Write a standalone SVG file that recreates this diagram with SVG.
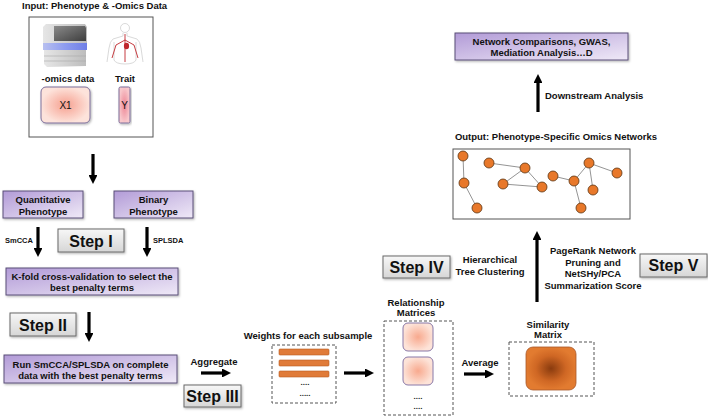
<svg xmlns="http://www.w3.org/2000/svg" width="708" height="418" viewBox="0 0 708 418">
<defs>
<linearGradient id="gPurple" x1="0" y1="0" x2="1" y2="1"><stop offset="0" stop-color="#b29bd7"/><stop offset="1" stop-color="#efe9f7"/></linearGradient>
<linearGradient id="gStep" x1="0" y1="0" x2="0" y2="1"><stop offset="0" stop-color="#f7f7f7"/><stop offset="1" stop-color="#d6d6d6"/></linearGradient>
<radialGradient id="gPink"><stop offset="0" stop-color="#f6a090"/><stop offset="1" stop-color="#fde3db"/></radialGradient>
<radialGradient id="gRed"><stop offset="0" stop-color="#ee8796"/><stop offset="1" stop-color="#f8c8cc"/></radialGradient>
<radialGradient id="gRel"><stop offset="0" stop-color="#f8a98e"/><stop offset="1" stop-color="#fde3d8"/></radialGradient>
<radialGradient id="gSim"><stop offset="0" stop-color="#8a3b0e"/><stop offset="0.6" stop-color="#cf6724"/><stop offset="1" stop-color="#e27b30"/></radialGradient>
<linearGradient id="gScreen" x1="0" y1="0" x2="1" y2="1"><stop offset="0" stop-color="#8a8a8a"/><stop offset="1" stop-color="#3e3e3e"/></linearGradient>
<linearGradient id="gBody" x1="0" y1="0" x2="1" y2="0"><stop offset="0" stop-color="#e6e6e6"/><stop offset="1" stop-color="#bdbdbd"/></linearGradient>
<linearGradient id="gBlue" x1="0" y1="0" x2="1" y2="0"><stop offset="0" stop-color="#b8c0f0"/><stop offset="0.5" stop-color="#8e9cf0"/><stop offset="1" stop-color="#6f7fe6"/></linearGradient>
<filter id="sh" x="-10%" y="-10%" width="120%" height="130%"><feDropShadow dx="1" dy="1.2" stdDeviation="0.9" flood-color="#000" flood-opacity="0.3"/></filter>
<marker id="ah" viewBox="0 0 10 10" refX="3" refY="5" markerWidth="2.8" markerHeight="2.8" orient="auto" markerUnits="strokeWidth"><path d="M0,0 L10,5 L0,10 z" fill="#000"/></marker>
</defs>
<style>
text{font-family:"Liberation Sans",Arial,sans-serif;font-weight:bold;fill:#111;}
.t{font-size:9.5px;}
.c{text-anchor:middle;}
.s{font-size:7.5px;}
.step{font-size:16px;text-anchor:middle;}
.dots{font-size:8px;text-anchor:middle;fill:#222;}
.pbox{fill:url(#gPurple);stroke:#5b4f78;stroke-width:1;filter:url(#sh);}
.sbox{fill:url(#gStep);stroke:#6a6a6a;stroke-width:1;filter:url(#sh);}
.dash{fill:none;stroke:#555;stroke-width:1;stroke-dasharray:3,2;}
.arr{stroke:#000;stroke-width:3.2;fill:none;marker-end:url(#ah);}
.edge{stroke:#888;stroke-width:0.9;}
.node{fill:#e8782a;stroke:#5a3312;stroke-width:0.8;}
.bar{fill:#e07b39;stroke:#b85a20;stroke-width:0.6;}
</style>
<rect width="708" height="418" fill="#fff"/>

<g id="input">
<text class="t" x="22" y="9">Input: Phenotype &amp; -Omics Data</text>
<rect x="29" y="17" width="124" height="120" fill="#fff" stroke="#555" stroke-width="1"/>
<g id="sequencer">
<path d="M46,24 L85,24 L87,27 L87,43 L43,43 L43,27 Z" fill="url(#gBody)"/>
<path d="M54,26 L85,26 L86,28 L86,41 L54,41 Z" fill="url(#gScreen)"/>
<rect x="43" y="43" width="44" height="7" fill="url(#gBlue)"/>
<path d="M44,50 L86,50 L86,66 L47,67 L44,64 Z" fill="url(#gBody)"/>
<line x1="44" y1="56" x2="86" y2="56" stroke="#aaa" stroke-width="0.6"/>
<line x1="44" y1="61" x2="86" y2="61" stroke="#aaa" stroke-width="0.6"/>
</g>
<g id="body" fill="none" stroke="#cfcfcf" stroke-width="0.8">
<circle cx="125" cy="28" r="4.5"/>
<path d="M123,33 L123,36 L113,39 Q110,41 109,48 L107,62 M127,33 L127,36 L137,39 Q140,41 141,48 L143,62"/>
<path d="M114,42 L114,60 Q116,64 125,64 Q134,64 136,60 L136,42"/>
<path d="M125,34 L125,62 M125,40 L116,45 L112,58 M125,40 L134,45 L138,58" stroke="#c0272d" stroke-width="0.9"/>
<ellipse cx="126.5" cy="46" rx="2.6" ry="3.2" fill="#c0272d" stroke="none"/>
</g>
<text class="t c" x="68" y="81.5">-omics data</text>
<text class="t c" x="125" y="81.5">Trait</text>
<rect x="41" y="87" width="49" height="36" rx="5" fill="url(#gPink)" stroke="#7c6e9a" stroke-width="1" filter="url(#sh)"/>
<text class="c" x="65.5" y="109" style="font-size:10px;font-weight:normal">X1</text>
<rect x="119" y="87" width="11" height="36" rx="1.5" fill="url(#gRed)" stroke="#7c6e9a" stroke-width="1" filter="url(#sh)"/>
<text class="c" x="124.5" y="109" style="font-size:10px;font-weight:normal">Y</text>
</g>

<g id="quant">
<rect class="pbox" x="3" y="191" width="80" height="27"/>
<text class="t c" x="43" y="202.5">Quantitative</text>
<text class="t c" x="43" y="214.5">Phenotype</text>
</g>
<g id="binary">
<rect class="pbox" x="114" y="191" width="79" height="27"/>
<text class="t c" x="153.5" y="202.5">Binary</text>
<text class="t c" x="153.5" y="214.5">Phenotype</text>
</g>
<g id="step1">
<rect class="sbox" x="58" y="229" width="66" height="23"/>
<text class="step" x="91" y="246.5">Step I</text>
</g>
<g id="kfold">
<rect class="pbox" x="6" y="268" width="172" height="27"/>
<text class="t c" x="92" y="279.5">K-fold cross-validation to select the</text>
<text class="t c" x="92" y="291">best penalty terms</text>
</g>
<g id="step2">
<rect class="sbox" x="10" y="313" width="66" height="23"/>
<text class="step" x="43" y="330.5">Step II</text>
</g>
<g id="run">
<rect class="pbox" x="4" y="355" width="173" height="28"/>
<text class="t c" x="90.5" y="367.5">Run SmCCA/SPLSDA on complete</text>
<text class="t c" x="90.5" y="379">data with the best penalty terms</text>
</g>
<g id="step3">
<rect class="sbox" x="184" y="385" width="57" height="22"/>
<text class="step" x="212.5" y="401.5">Step III</text>
</g>

<g id="weights">
<text class="t c" x="308" y="338.5">Weights for each subsample</text>
<rect class="dash" x="272" y="345" width="64" height="58"/>
<rect class="bar" x="279" y="349" width="50" height="6" rx="1"/>
<rect class="bar" x="279" y="360" width="50" height="6" rx="1"/>
<rect class="bar" x="279" y="371" width="50" height="6" rx="1"/>
<text class="dots" x="305" y="385">....</text>
<text class="dots" x="305" y="396">.....</text>
</g>

<g id="relationship">
<text class="t c" x="416" y="306">Relationship</text>
<text class="t c" x="416" y="316">Matrices</text>
<rect class="dash" x="384" y="321" width="69" height="94"/>
<rect x="403" y="323" width="30" height="28" rx="5" fill="url(#gRel)" stroke="#8878a8" stroke-width="1"/>
<rect x="403" y="357" width="30" height="28" rx="5" fill="url(#gRel)" stroke="#8878a8" stroke-width="1"/>
<text class="dots" x="418" y="399">....</text>
<text class="dots" x="418" y="409">....</text>
</g>

<g id="similarity">
<text class="t c" x="548" y="327.5">Similarity</text>
<text class="t c" x="548" y="337.5">Matrix</text>
<rect class="dash" x="509" y="342" width="85" height="54"/>
<rect x="526" y="347" width="50" height="43" rx="7" fill="url(#gSim)" stroke="#a8582a" stroke-width="0.8"/>
</g>

<g id="step4">
<rect class="sbox" x="383" y="256" width="67" height="22"/>
<text class="step" x="416.5" y="272.5">Step IV</text>
<text class="t c" x="490" y="263">Hierarchical</text>
<text class="t c" x="490" y="274.5">Tree Clustering</text>
</g>

<g id="step5">
<rect class="sbox" x="640" y="254" width="67" height="23"/>
<text class="step" x="673.5" y="271">Step V</text>
<text class="t c" x="593" y="254">PageRank Network</text>
<text class="t c" x="593" y="265.5">Pruning and</text>
<text class="t c" x="593" y="277">NetSHy/PCA</text>
<text class="t c" x="593" y="288.5">Summarization Score</text>
</g>

<g id="network">
<text class="t c" x="556" y="139.5">Output: Phenotype-Specific Omics Networks</text>
<rect x="453" y="149" width="177" height="70" fill="#fff" stroke="#555" stroke-width="1"/>
<g class="edges">
<line class="edge" x1="463" y1="156" x2="464" y2="183"/>
<line class="edge" x1="464" y1="183" x2="477" y2="208"/>
<line class="edge" x1="489" y1="163" x2="525" y2="168"/>
<line class="edge" x1="525" y1="168" x2="503" y2="184"/>
<line class="edge" x1="503" y1="184" x2="542" y2="187"/>
<line class="edge" x1="525" y1="168" x2="542" y2="187"/>
<line class="edge" x1="553" y1="176" x2="574" y2="181"/>
<line class="edge" x1="574" y1="181" x2="589" y2="163"/>
<line class="edge" x1="589" y1="163" x2="617" y2="173"/>
<line class="edge" x1="589" y1="163" x2="593" y2="190"/>
<line class="edge" x1="574" y1="181" x2="581" y2="208"/>
</g>
<circle class="node" cx="463" cy="156" r="5"/>
<circle class="node" cx="464" cy="183" r="5"/>
<circle class="node" cx="477" cy="208" r="5"/>
<circle class="node" cx="489" cy="163" r="5"/>
<circle class="node" cx="525" cy="168" r="5"/>
<circle class="node" cx="503" cy="184" r="5"/>
<circle class="node" cx="542" cy="187" r="5"/>
<circle class="node" cx="553" cy="176" r="5"/>
<circle class="node" cx="574" cy="181" r="5"/>
<circle class="node" cx="589" cy="163" r="5"/>
<circle class="node" cx="617" cy="173" r="5"/>
<circle class="node" cx="593" cy="190" r="5"/>
<circle class="node" cx="581" cy="208" r="5"/>
</g>

<g id="downstream">
<rect class="pbox" x="455" y="33" width="173" height="27"/>
<text class="t c" x="541.5" y="45">Network Comparisons, GWAS,</text>
<text class="t c" x="541.5" y="56">Mediation Analysis…D</text>
</g>

<g id="connectors">
<line class="arr" x1="93" y1="154" x2="93" y2="177.7"/>
<line class="arr" x1="38" y1="227" x2="38" y2="250.7"/>
<line class="arr" x1="147" y1="227" x2="147" y2="250.7"/>
<line class="arr" x1="89" y1="312" x2="89" y2="335.7"/>
<line class="arr" x1="201" y1="373" x2="224.7" y2="373"/>
<line class="arr" x1="344" y1="373" x2="367.7" y2="373"/>
<line class="arr" x1="464" y1="374" x2="487.7" y2="374"/>
<line class="arr" x1="537" y1="302" x2="537" y2="237.3"/>
<line class="arr" x1="538" y1="112" x2="538" y2="80.3"/>
<text class="s" x="5" y="243">SmCCA</text>
<text class="s" x="153" y="243">SPLSDA</text>
<text class="t c" x="214" y="364.5">Aggregate</text>
<text class="t c" x="480" y="365.5">Average</text>
<text class="t" x="545" y="98.5">Downstream Analysis</text>
</g>
</svg>
